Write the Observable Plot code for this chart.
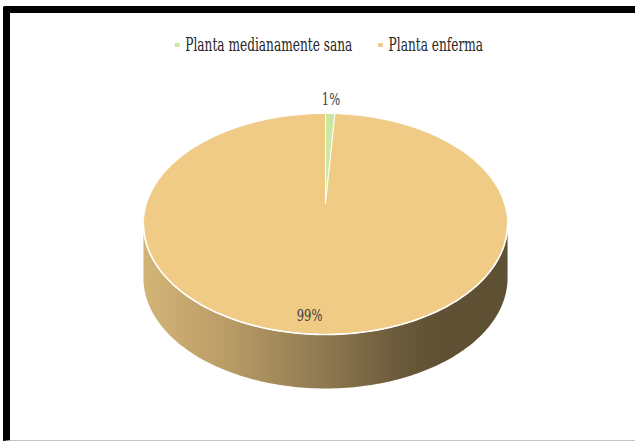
<!DOCTYPE html>
<html>
<head>
<meta charset="utf-8">
<script src="https://cdn.jsdelivr.net/npm/d3@7"></script>
<script src="https://cdn.jsdelivr.net/npm/@observablehq/plot@0.6"></script>
<style>
html, body { margin: 0; padding: 0; background: #fff; overflow: hidden; }
#wrap { position: relative; width: 635px; height: 442px; overflow: hidden; background: #fff; }
#chart { position: absolute; left: 0; top: 0; }
#frame { position: absolute; left: 3px; top: 6px; width: 660px; height: 435px; box-sizing: border-box;
  border-top: 7px solid #000; border-left: 7px solid #000; border-bottom: 1.5px solid #c4c4c4; border-top-left-radius: 2px; pointer-events: none; }
#legend { position: absolute; left: 175px; top: 35px; display: flex; align-items: center; white-space: nowrap;
  transform-origin: 0 0; font-family: "DejaVu Serif", serif;
  font-size: 18.5px; line-height: 20px; color: #262626; }
#legend .item { display: flex; align-items: center; }
#legend .sw { display: inline-block; height: 4.5px; }
</style>
</head>
<body>
<div id="wrap">
  <div id="chart"></div>
  <div id="legend"></div>
  <div id="frame"></div>
</div>
<script>
// ---- data ----
const categories = ["Planta medianamente sana", "Planta enferma"];
const values = [1, 99];

// ---- styles ----
const palette = ["#cbe8a2", "#efcb86"];
const serif = "DejaVu Serif, serif";

// ---- perspective layout for the 3D pie ----
const P = {cx: 325, K: 178.9, a: -69.04, b: 203, c: 0.1855, depth: 54};
function proj(u, v, dz = 0) {
  const w = P.c * v + 1;
  return [P.cx + P.K * u / w, (P.a * v + P.b) / w + dz];
}
function pt(deg, r = 1, dz = 0) {
  const t = deg * Math.PI / 180;
  return proj(r * Math.sin(t), r * Math.cos(t), dz);
}

const total = d3.sum(values);
let acc = 0;
const slices = categories.map((cat, i) => {
  const a0 = acc / total * 360; acc += values[i];
  const a1 = acc / total * 360;
  return {cat, a0, a1, mid: (a0 + a1) / 2, share: values[i] / total, pct: Math.round(values[i] / total * 100) + "%"};
});

function arc(a0, a1, r = 1, dz = 0) {
  const n = Math.max(2, Math.ceil(Math.abs(a1 - a0)));
  return d3.range(n + 1).map(k => pt(a0 + (a1 - a0) * k / n, r, dz));
}

// top faces
const apex = proj(0, 0);
const topPts = slices.flatMap(s => [apex, ...arc(s.a0, s.a1), apex].map(p => ({cat: s.cat, p})));

// visible side (front half, between silhouette extremes)
const th1 = Math.acos(-P.c) * 180 / Math.PI;
const th2 = 360 - th1;
const sidePts = slices.flatMap(s => {
  const lo = Math.max(s.a0, th1), hi = Math.min(s.a1, th2);
  if (hi <= lo) return [];
  const poly = [...arc(lo, hi, 1, 0), ...arc(hi, lo, 1, P.depth)];
  poly.push(poly[0]);
  return poly.map(p => ({cat: s.cat, p}));
});
const rimPts = arc(th1, th2).map(p => ({p}));

// labels
const labelPts = slices.map(s => {
  const outside = s.share < 0.05;
  return {...s, outside, p: outside ? pt(s.mid, 1.19) : pt(s.mid, 0.88)};
});

function defsMark() {
  const defs = d3.create("svg:defs");
  const g = defs.append("linearGradient").attr("id", "sideGrad")
    .attr("x1", 0).attr("x2", 1).attr("y1", 0).attr("y2", 0);
  [[0, "#d3b477"], [0.24, "#b89b66"], [0.5, "#8e7850"], [0.7, "#6b5a3b"], [0.8, "#605134"], [1, "#5e5033"]]
    .forEach(([o, c]) => g.append("stop").attr("offset", o).attr("stop-color", c));
  return defs.node();
}

const X = d => d.p[0], Y = d => d.p[1];

const chart = Plot.plot({
  width: 635, height: 442, margin: 0,
  x: {domain: [0, 635], range: [0, 635], axis: null},
  y: {domain: [0, 442], range: [0, 442], axis: null},
  color: {domain: categories, range: palette},
  style: {background: "transparent", overflow: "visible"},
  marks: [
    defsMark,
    Plot.line(sidePts, {x: X, y: Y, z: "cat", fill: "url(#sideGrad)", stroke: "none"}),
    Plot.line(topPts, {x: X, y: Y, z: "cat", fill: "cat", stroke: "white", strokeWidth: 1, strokeLinejoin: "round"}),
    Plot.line(rimPts, {x: X, y: Y, stroke: "white", strokeWidth: 1.6}),
    Plot.text(labelPts.filter(d => d.outside), {x: X, y: Y, text: "pct", fontSize: 17.5,
      fontFamily: serif, fill: "#404040", className: "pct"}),
    Plot.text(labelPts.filter(d => !d.outside), {x: X, y: Y, text: "pct", dx: -10, fontSize: 17.5,
      fontFamily: serif, fill: "#404040", className: "pct"})
  ]
});
document.getElementById("chart").append(chart);

// legend
const legend = d3.select("#legend");
const spans = categories.map((c, i) => {
  const item = legend.append("div").attr("class", "item");
  const sw = item.append("span").attr("class", "sw").style("background", palette[i]);
  const tx = item.append("span").text(c);
  return {item, sw, tx};
});
// condense horizontally so the first entry spans ~167px like the reference
const natural = spans[0].tx.node().getBoundingClientRect().width;
const s = 167 / natural;
spans.forEach(({item, sw}, i) => {
  sw.style("width", (4.3 / s) + "px").style("margin-right", (6 / s) + "px");
  if (i < spans.length - 1) item.style("margin-right", (26 / s) + "px");
});
legend.style("transform", `scaleX(${s})`);

// condensed look of the percentage labels
chart.querySelectorAll("g.pct text").forEach(t => {
  const w = t.getComputedTextLength();
  t.setAttribute("textLength", (w * s).toFixed(1));
  t.setAttribute("lengthAdjust", "spacingAndGlyphs");
});
</script>
</body>
</html>
